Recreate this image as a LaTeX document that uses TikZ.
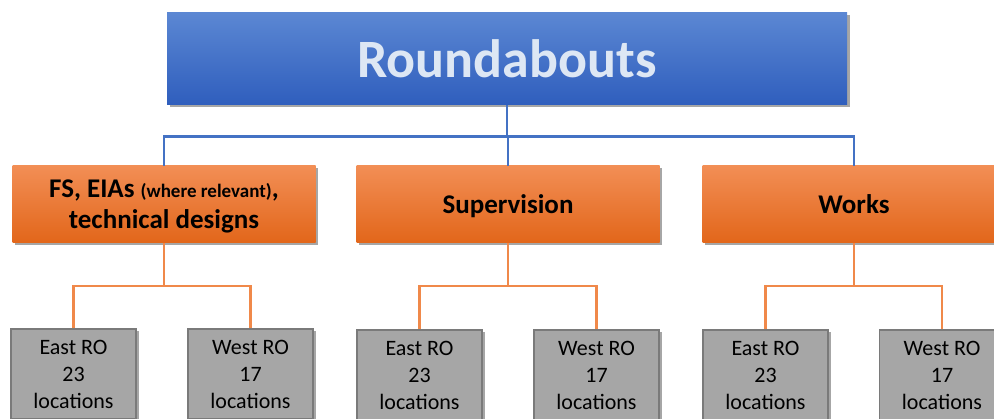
\documentclass[tikz,border=0pt]{standalone}
\usepackage{fontspec}
\setmainfont{Carlito}
\usetikzlibrary{positioning,shadows}
\definecolor{rootTop}{HTML}{5B87D3}
\definecolor{rootBot}{HTML}{2F5EBD}
\definecolor{rootText}{HTML}{DDE7F4}
\definecolor{taskTop}{HTML}{F28E55}
\definecolor{taskBot}{HTML}{E2661A}
\definecolor{linkBlue}{HTML}{4472C4}
\definecolor{linkOrange}{HTML}{F0894A}
\definecolor{officeFill}{HTML}{A6A6A6}
\definecolor{officeLine}{HTML}{7A7A7A}
\tikzset{
  orgshadow/.style={drop shadow={shadow xshift=2.5pt,shadow yshift=-2.5pt,opacity=0.35,fill=black}},
  rootbox/.style={rectangle,orgshadow,top color=rootTop,bottom color=rootBot,
    minimum width=680pt,minimum height=92pt,inner sep=0pt,text=rootText,
    font=\fontsize{54}{60}\selectfont\bfseries},
  taskbox/.style={rectangle,orgshadow,top color=taskTop,bottom color=taskBot,
    minimum width=303pt,minimum height=77pt,inner sep=0pt,align=center,text depth=0pt,
    font=\fontsize{27}{31}\selectfont\bfseries},
  officebox/.style={rectangle,orgshadow,fill=officeFill,draw=officeLine,line width=1.5pt,
    minimum width=125pt,minimum height=90pt,inner sep=0pt,align=center,
    font=\fontsize{22}{27}\selectfont},
  bluelink/.style={draw=linkBlue,line width=2.8pt},
  orangelink/.style={draw=linkOrange,line width=2.2pt}}

\begin{document}
\begin{tikzpicture}[x=1pt,y=-1pt]
  \useasboundingbox[clip] (0,0) rectangle (994,419);
  % top level
  \node[rootbox] (root) at (507,59) {Roundabouts};
  % second level
  \node[taskbox] (fs) at (164,204.5) {FS, EIAs {\fontsize{19}{22}\selectfont (where relevant)},\\technical designs};
  \node[taskbox] (sup) at (508,204.5) {Supervision};
  \node[taskbox] (wrk) at (854,204.5) {Works};
  % regional offices
  \node[officebox] (fsE) at (73.5,374) {East RO\\23\\locations};
  \node[officebox] (fsW) at (250.5,374) {West RO\\17\\locations};
  \node[officebox] (supE) at (419.5,375) {East RO\\23\\locations};
  \node[officebox] (supW) at (596.5,375) {West RO\\17\\locations};
  \node[officebox] (wrkE) at (765.5,375) {East RO\\23\\locations};
  \node[officebox] (wrkW) at (942,375) {West RO\\17\\locations};
  % connectors
  \draw[bluelink] (root.south) -- ++(0,31) coordinate (hub);
  \draw[bluelink] (hub) -| (fs.north);
  \draw[bluelink] (hub) -| (sup.north);
  \draw[bluelink] (hub) -| (wrk.north);
  \foreach \t in {fs,sup,wrk}{
    \draw[orangelink] (\t.south) -- ++(0,43) coordinate (\t hub);
    \draw[orangelink] (\t hub) -| (\t E.north);
    \draw[orangelink] (\t hub) -| (\t W.north);
  }
\end{tikzpicture}
\end{document}
